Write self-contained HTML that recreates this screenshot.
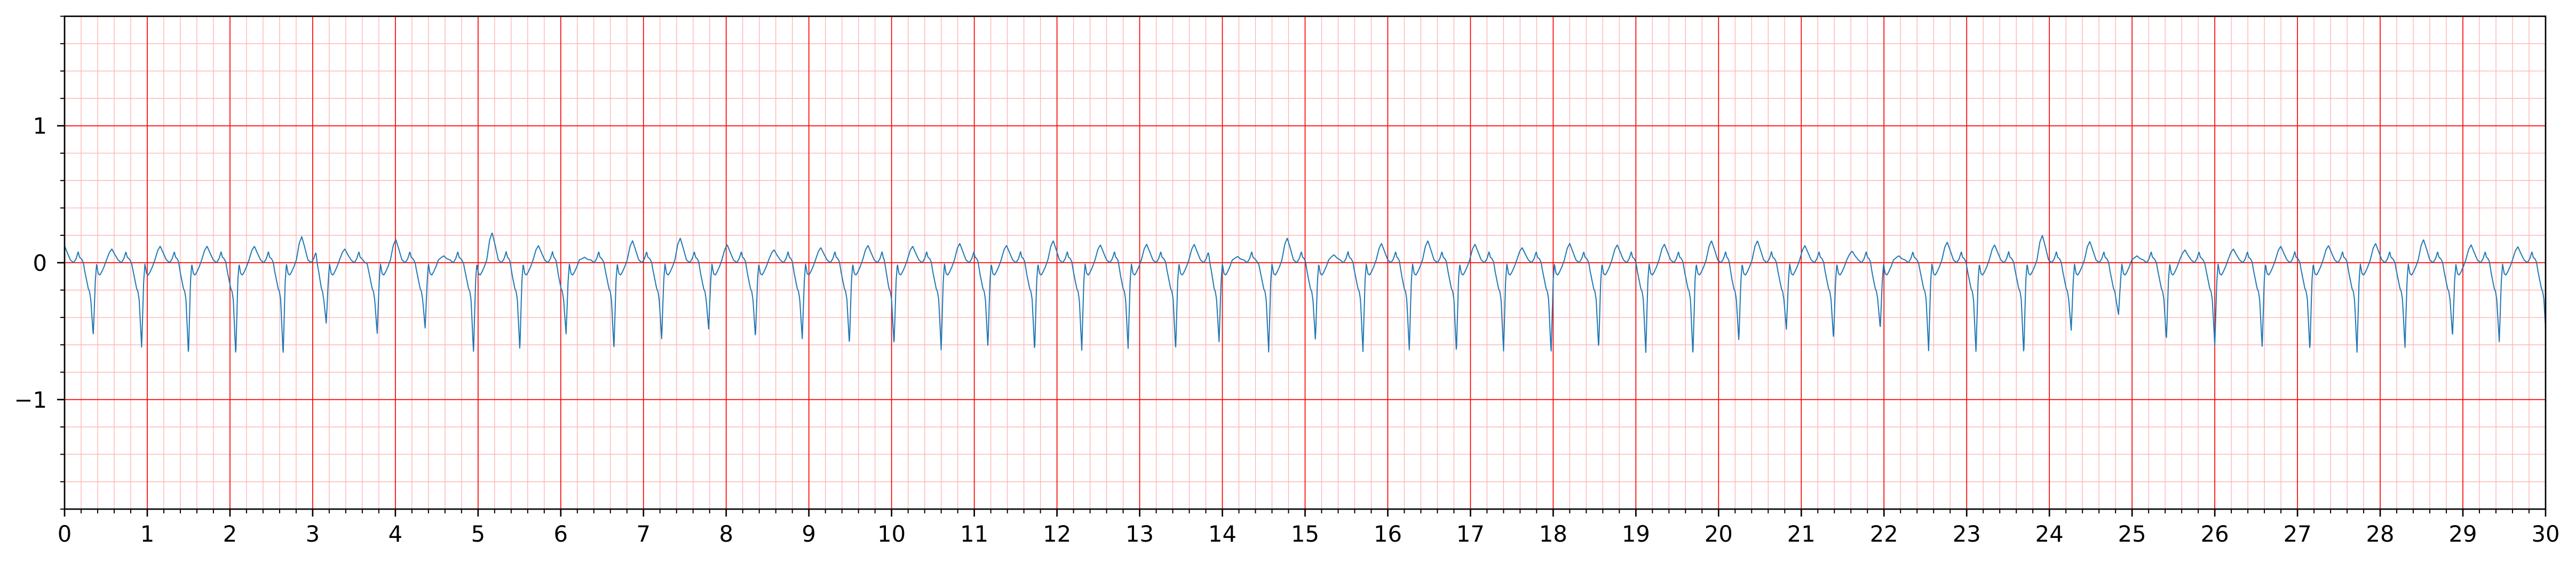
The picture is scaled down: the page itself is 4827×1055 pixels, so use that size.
<!DOCTYPE html>
<html><head><meta charset="utf-8">
<style>
html,body{margin:0;padding:0;background:#fff;}
svg{display:block;}
text{font-family:"DejaVu Sans","Liberation Sans",sans-serif;font-size:41.7px;fill:#000;}
</style></head>
<body>
<svg id="chart" width="4827" height="1055" viewBox="0 0 4827 1055" xmlns="http://www.w3.org/2000/svg">
<g id="grid"></g>
<g id="trace"></g>
<g id="axes"></g>
</svg>
<script>
// beat times (s) of the sharp negative deflection
const beatTimes = [-0.23,0.347,0.932,1.498,2.07,2.643,3.164,3.78,4.36,4.945,5.505,6.064,6.643,7.22,7.788,8.354,8.92,9.49,
10.03,10.60,11.165,11.73,12.30,12.86,13.435,13.96,14.56,15.125,15.70,16.26,16.83,17.40,17.975,18.55,19.12,19.69,
20.245,20.82,21.39,21.955,22.54,23.113,23.69,24.264,24.836,25.415,26.0,26.573,27.15,27.72,28.30,28.875,29.44,30.01];
// depth of the negative deflection (mV)
const beatDepths = [-0.6,-0.535,-0.617,-0.675,-0.68,-0.676,-0.441,-0.516,-0.477,-0.66,-0.636,-0.52,-0.634,-0.555,-0.484,-0.545,-0.555,-0.596,
-0.6,-0.636,-0.615,-0.645,-0.639,-0.626,-0.636,-0.577,-0.652,-0.568,-0.649,-0.636,-0.658,-0.645,-0.667,-0.628,-0.655,-0.68,
-0.572,-0.486,-0.557,-0.48,-0.643,-0.661,-0.671,-0.493,-0.378,-0.564,-0.603,-0.623,-0.645,-0.654,-0.619,-0.538,-0.578,-0.594];
// T-wave peak height (mV)
const tHeights = [0.13,0.10,0.12,0.12,0.12,0.19,0.10,0.17,0.05,0.22,0.125,0.04,0.16,0.18,0.13,0.094,0.11,0.126,
0.12,0.14,0.126,0.16,0.13,0.135,0.133,0.045,0.18,0.058,0.14,0.16,0.135,0.11,0.14,0.13,0.135,0.16,
0.16,0.125,0.084,0.05,0.15,0.13,0.2,0.155,0.05,0.093,0.1,0.12,0.125,0.14,0.168,0.13,0.116,0.12];
const xTicks = [0,1,2,3,4,5,6,7,8,9,10,11,12,13,14,15,16,17,18,19,20,21,22,23,24,25,26,27,28,29,30];
const yTicks = [-1,0,1];
const yTickLabels = ["\u22121","0","1"];

const L=121, R=4770, T=30.5, B=954;
const xMin=0,xMax=30,yMin=-1.8,yMax=1.8;
const sx=v=>L+(v-xMin)/(xMax-xMin)*(R-L);
const sy=v=>B-(v-yMin)/(yMax-yMin)*(B-T);
const NS="http://www.w3.org/2000/svg";
function mk(tag,attrs,parent){const e=document.createElementNS(NS,tag);for(const k in attrs)e.setAttribute(k,attrs[k]);parent.appendChild(e);return e;}

const grid=document.getElementById('grid');
for(let i=0;i<=150;i++){const v=i*0.2;if(i%5===0)continue;
 const l=mk('line',{x1:sx(v),x2:sx(v),y1:T,y2:B,stroke:'#ffb0b0','stroke-width':1.3},grid);
 
 }
for(let i=-9;i<=9;i++){if(i%5===0)continue;const v=i*0.2;
 const l=mk('line',{x1:L,x2:R,y1:sy(v),y2:sy(v),stroke:'#ffb0b0','stroke-width':1.3},grid);
 
 }
xTicks.forEach(v=>{const l=mk('line',{x1:sx(v),x2:sx(v),y1:T,y2:B,stroke:'#ff0000','stroke-width':1.7},grid);
 
 });
yTicks.forEach(v=>{const l=mk('line',{x1:L,x2:R,y1:sy(v),y2:sy(v),stroke:'#ff0000','stroke-width':1.7},grid);
 
 });

// beat template: [offset s, value] ; 'D' = depth, 'T' = T height
const tpl=[[-0.14,0],[-0.12,-0.01],[-0.10,-0.07],[-0.08,-0.13],[-0.06,-0.19],[-0.045,-0.21],[-0.03,-0.27],[0,'D'],
[0.025,-0.13],[0.04,-0.01],[0.06,-0.08],[0.08,-0.09],[0.1,-0.07],[0.13,-0.03],[0.16,0.02],[0.195,'T8'],[0.225,'T'],
[0.26,'T6'],[0.3,0.02],[0.34,0.0],[0.37,0.03],[0.395,0.08],[0.41,0.04],[0.43,0.03],[0.47,0]];
function beatVal(dt,depth,th){
 if(dt<=tpl[0][0]||dt>=tpl[tpl.length-1][0])return 0;
 const val=p=>p==='D'?depth:p==='T'?th:p==='T8'?th*0.75:p==='T6'?th*0.6:p;
 for(let i=0;i<tpl.length-1;i++){const a=tpl[i],b=tpl[i+1];
  if(dt>=a[0]&&dt<=b[0]){const f=(dt-a[0])/(b[0]-a[0]);return val(a[1])+(val(b[1])-val(a[1]))*f;}}
 return 0;}
let d='';
for(let i=0;i<=7500;i++){const t=i*0.004;let v=0;
 for(let k=0;k<beatTimes.length;k++){const dt=t-beatTimes[k];if(dt>-0.15&&dt<0.48)v+=beatVal(dt,beatDepths[k],tHeights[k]);}
 d+=(i?'L':'M')+sx(t).toFixed(1)+' '+sy(v).toFixed(1);}
const tr=document.getElementById('trace');
const p=mk('path',{d:d,fill:'none',stroke:'#1f77b4','stroke-width':2,'stroke-linejoin':'round'},tr);



const ax=document.getElementById('axes');
const fr=mk('rect',{x:L,y:T,width:R-L,height:B-T,fill:'none',stroke:'#000','stroke-width':2.7},ax);


for(let i=0;i<=150;i++){const v=i*0.2;const major=i%5===0;
 const l=mk('line',{x1:sx(v),x2:sx(v),y1:B,y2:B+(major?14:8),stroke:'#000','stroke-width':major?2.7:2},ax);
 
 }
xTicks.forEach(v=>{const t=mk('text',{x:sx(v),y:1015,'text-anchor':'middle'},ax);t.textContent=String(v);
 
 });
for(let i=-9;i<=9;i++){const v=i*0.2;const major=i%5===0;
 const l=mk('line',{x1:L-(major?14:8),x2:L,y1:sy(v),y2:sy(v),stroke:'#000','stroke-width':major?2.7:2},ax);
 
 }
yTicks.forEach((v,i)=>{const t=mk('text',{x:88,y:sy(v)+15,'text-anchor':'end'},ax);t.textContent=yTickLabels[i];
 
 });
</script>
</body></html>
